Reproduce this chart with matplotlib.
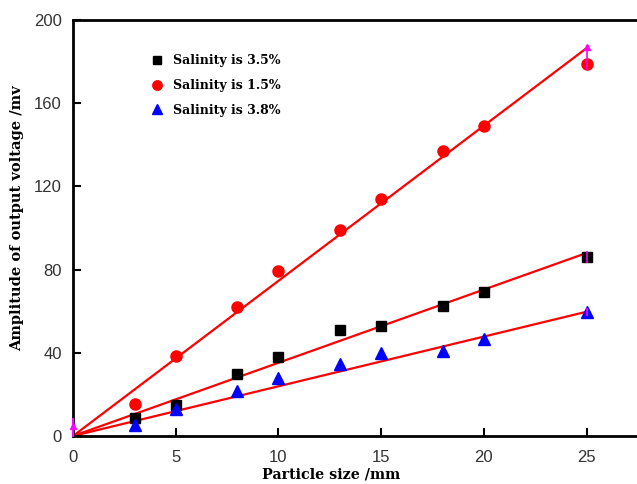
import matplotlib.pyplot as plt
import numpy as np

# particle size (mm)
particle_size = [3, 5, 8, 10, 13, 15, 18, 20, 25]

# output voltage amplitude (mV)
salinity_35 = [8.6, 15, 30, 38, 51, 53, 62.5, 69, 86]
salinity_15 = [15.4, 38.5, 62, 79.5, 99, 114, 137, 149, 179]
salinity_38 = [5.3, 13, 21.6, 27.8, 34.6, 39.8, 41, 46.8, 59.6]

# fitted lines (slope, intercept)
fit_35 = (3.52, 0.0)
fit_15 = (7.46, 0.0)
fit_38 = (2.39, 0.0)

# magenta error bars at the last point
err_x = [25, 25, 25]
err_y = [182, 86, 59.6]
err_size = [6, 3, 2]

x_ticks = [0, 5, 10, 15, 20, 25]
y_ticks = [0, 40, 80, 120, 160, 200]

tick_font = 'Liberation Sans'
label_font = 'DejaVu Serif'

fig = plt.figure(figsize=(6.37, 4.84), dpi=100)
ax = fig.add_axes([0.1146, 0.0992, 0.8854, 0.8595])

xfit = np.array([0, 25])
for slope, icpt in [fit_35, fit_15, fit_38]:
    ax.plot(xfit, slope * xfit + icpt, color='#ff0000', lw=1.6, zorder=2)

ax.errorbar(err_x, err_y, yerr=err_size, fmt='none', ecolor='#ff00ff',
            elinewidth=1.2, zorder=4)
ax.plot([25], [187], marker='^', color='#ff00ff', ms=5, zorder=4)
ax.plot([0], [5], marker='^', color='#ff00ff', ms=5, clip_on=False, zorder=4)
ax.plot([0, 0], [0, 8], color='#ff00ff', lw=1.5, clip_on=False, zorder=4)

ax.plot(particle_size, salinity_35, 's', color='black', ms=7.5,
        label='Salinity is 3.5%', zorder=3)
ax.plot(particle_size, salinity_15, 'o', color='#ff0000', ms=8,
        label='Salinity is 1.5%', zorder=3)
ax.plot(particle_size, salinity_38, '^', color='#0000ff', ms=8.5,
        label='Salinity is 3.8%', zorder=3)

ax.set_xlim(0, 27.45)
ax.set_ylim(0, 200)
ax.set_xticks(x_ticks)
ax.set_yticks(y_ticks)
ax.tick_params(direction='in', length=6, width=1.5, labelsize=12)
ax.tick_params(axis='x', pad=10)
ax.tick_params(axis='y', pad=8)
for lab in ax.get_xticklabels() + ax.get_yticklabels():
    lab.set_fontfamily(tick_font)
    lab.set_color('#333333')

for side in ['left', 'bottom', 'top']:
    ax.spines[side].set_linewidth(2)
ax.spines['right'].set_visible(False)

ax.set_xlabel('Particle size /mm', fontfamily=label_font, fontweight='bold',
              fontsize=10.3)
ax.set_ylabel('Amplitude of output voltage /mv', fontfamily=label_font,
              fontweight='bold', fontsize=10.5)
ax.xaxis.set_label_coords(0.457, -0.076)
ax.yaxis.set_label_coords(-0.087, 0.524)

leg = ax.legend(loc='upper left', bbox_to_anchor=(0.115, 0.945), frameon=False,
                prop={'family': label_font, 'weight': 'bold', 'size': 9},
                handletextpad=0.7, labelspacing=0.95, handlelength=1.2,
                numpoints=1, markerscale=0.85)

fig.savefig('out.png', dpi=100)
